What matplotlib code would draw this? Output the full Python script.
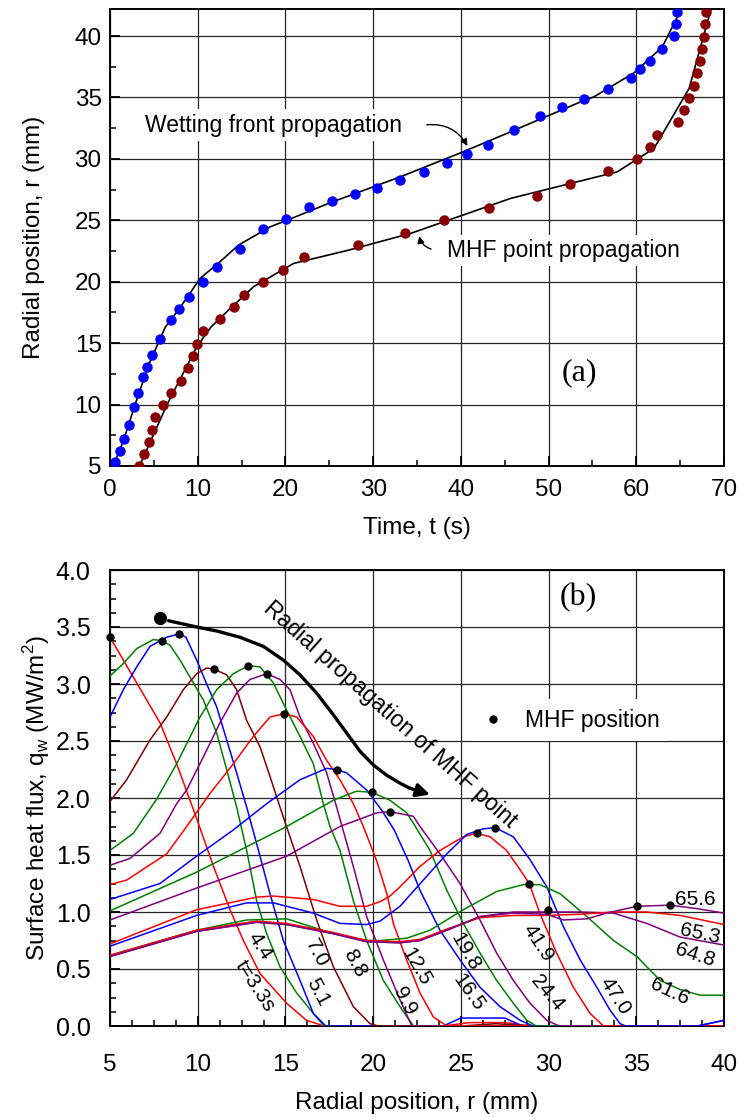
import numpy as np
import matplotlib.pyplot as plt
from matplotlib.ticker import MultipleLocator

plt.rcParams['font.family'] = ['Liberation Sans', 'DejaVu Sans']

# ---------- panel (a) data ----------
wet_t = [0.57, 1.14, 1.64, 2.2, 2.7, 3.16, 3.73, 4.26, 4.79, 5.75, 6.93, 7.91, 9.02, 10.6,
         12.18, 14.84, 17.39, 20.05, 22.64, 25.34, 27.97, 30.4, 33.1, 35.77, 38.47, 40.75,
         43.07, 46.04, 49.0, 51.48, 53.99, 56.74, 59.44, 60.46, 61.53, 62.97, 64.3, 64.5, 64.69]
wet_r = [5.3, 6.24, 7.22, 8.36, 9.77, 10.97, 12.27, 13.03, 14.0, 15.33, 16.88, 17.75, 18.78, 19.95,
         21.17, 22.66, 24.3, 25.07, 26.05, 26.54, 27.13, 27.67, 28.27, 28.92, 29.63, 30.39,
         31.15, 32.31, 33.48, 34.19, 34.86, 35.7, 36.57, 37.28, 37.95, 38.93, 40.01, 40.94, 41.97]
mhf_t = [3.35, 3.92, 4.45, 4.83, 5.14, 6.01, 7.0, 8.1, 8.87, 9.51, 9.93, 10.58, 12.56, 14.08,
         15.22, 17.39, 19.75, 22.15, 28.23, 33.68, 38.13, 43.23, 48.71, 52.4, 56.77, 60.12,
         61.6, 62.33, 64.8, 65.49, 66.06, 66.55, 66.89, 67.31, 67.5, 67.77, 67.84, 67.96]
mhf_r = [5.0, 5.98, 6.95, 7.93, 8.96, 9.94, 10.97, 11.94, 12.97, 13.93, 14.93, 15.96, 16.96, 17.94,
         18.94, 19.95, 20.92, 21.98, 22.98, 23.96, 24.99, 25.97, 26.95, 27.97, 28.98, 29.96,
         30.98, 31.96, 32.97, 33.97, 34.94, 35.94, 36.95, 37.95, 38.93, 39.96, 40.96, 41.94]
wet_fit_t = [0.38, 1.5, 3.0, 4.5, 6.3, 8.0, 10.27, 12.5, 14.65, 18.26, 20.17, 25.0, 33.1, 40.0,
             45.0, 53.65, 55.17, 59.74, 62.5, 63.17, 65.07]
wet_fit_r = [5.0, 7.0, 10.3, 13.4, 16.3, 17.9, 20.27, 21.6, 22.98, 24.47, 25.0, 26.4, 28.54, 30.5,
             32.0, 34.64, 35.05, 37.0, 38.8, 39.4, 42.1]
mhf_fit_t = [3.23, 6.5, 9.9, 11.5, 13.32, 16.36, 20.93, 27.2, 34.25, 45.66, 57.84, 62.02, 66.02, 68.49]
mhf_fit_r = [4.8, 10.0, 14.7, 16.3, 17.56, 19.59, 21.49, 22.57, 23.93, 26.78, 28.95, 30.85, 35.73, 42.1]

# ---------- panel (b) data: radial heat flux profiles ----------
r_33 = [5, 6.33, 7.85, 8.8, 9.94, 10.9, 11.84, 12.6, 13.55, 15.07, 16.2, 17.2, 24, 25.5, 27.5, 29, 40]
q_33 = [3.41, 3.06, 2.66, 2.30, 1.82, 1.40, 1.02, 0.75, 0.46, 0.20, 0.05, 0.0, 0.0, 0.03, 0.03, 0.0, 0.0]
r_44 = [5, 5.76, 6.52, 7.47, 7.94, 8.42, 8.99, 9.56, 10.32, 11.08, 11.65, 12.22, 12.79, 13.36,
        13.93, 14.69, 15.64, 16.59, 17.2, 40]
q_44 = [3.07, 3.18, 3.31, 3.39, 3.38, 3.34, 3.21, 3.06, 2.86, 2.57, 2.25, 1.92, 1.54, 1.10,
        0.81, 0.52, 0.29, 0.11, 0.0, 0.0]
r_51 = [5, 5.76, 6.52, 7.28, 8.23, 8.95, 9.33, 9.94, 10.51, 11.08, 11.65, 12.22, 12.79, 13.36,
        14.12, 14.88, 15.83, 16.59, 17.3, 24, 25, 27.5, 28.5, 38.5, 40]
q_51 = [2.71, 2.95, 3.15, 3.33, 3.41, 3.44, 3.41, 3.21, 3.0, 2.80, 2.51, 2.22, 1.92, 1.60,
        1.16, 0.75, 0.40, 0.11, 0.0, 0.0, 0.07, 0.07, 0.0, 0.0, 0.05]
r_70 = [5, 5.95, 7.28, 8.23, 9.18, 9.94, 10.51, 10.93, 11.65, 12.22, 12.79, 13.55, 14.12, 14.69,
        15.83, 16.78, 17.73, 18.87, 19.82, 20.3, 25, 27, 29, 40]
q_70 = [1.97, 2.16, 2.51, 2.71, 2.95, 3.09, 3.14, 3.13, 3.08, 2.95, 2.68, 2.45, 2.19, 1.92,
        1.40, 0.93, 0.52, 0.17, 0.02, 0.0, 0.0, 0.02, 0.0, 0.0]
r_88 = [5, 6.33, 7.66, 8.8, 10.13, 11.08, 12.03, 12.88, 13.55, 14.31, 15.07, 15.83, 16.59, 17.16,
        17.54, 18.11, 18.87, 19.63, 20.58, 21.53, 22.3, 40]
q_88 = [1.54, 1.69, 1.99, 2.30, 2.71, 2.95, 3.09, 3.16, 3.15, 3.01, 2.77, 2.54, 2.30, 1.95,
        1.75, 1.54, 1.10, 0.75, 0.40, 0.17, 0.0, 0.0]
r_99 = [5, 6.14, 7.85, 8.8, 9.37, 10.32, 11.27, 12.22, 12.98, 13.93, 14.69, 15.26, 15.83, 16.59,
        17.35, 17.92, 18.87, 19.63, 20.58, 21.53, 22.2, 40]
q_99 = [1.41, 1.47, 1.69, 1.95, 2.07, 2.36, 2.66, 2.92, 3.04, 3.09, 3.04, 2.95, 2.71, 2.48,
        2.22, 1.92, 1.40, 0.96, 0.58, 0.23, 0.0, 0.0]
r_125 = [5, 5.95, 8.23, 9.37, 10.7, 12.03, 13.17, 14.12, 14.94, 15.64, 16.59, 17.35, 18.11, 18.87,
         19.44, 20.2, 20.8, 21.15, 21.91, 22.67, 23.43, 24.2, 40]
q_125 = [1.24, 1.28, 1.51, 1.75, 2.04, 2.30, 2.54, 2.71, 2.74, 2.71, 2.54, 2.33, 2.16, 1.95,
         1.75, 1.45, 1.15, 0.90, 0.58, 0.29, 0.08, 0.0, 0.0]
r_165 = [5, 7.85, 9.94, 12.03, 13.93, 15.83, 17.35, 17.92, 18.49, 19.63, 20.5, 21.2, 22.0, 22.67,
         23.81, 24.95, 26.09, 27.23, 28.38, 29.1, 40]
q_165 = [1.11, 1.25, 1.49, 1.72, 1.95, 2.16, 2.26, 2.25, 2.22, 2.07, 1.89, 1.72, 1.45, 1.19,
         0.84, 0.58, 0.34, 0.17, 0.05, 0.0, 0.0]
r_198 = [5, 9.94, 15.07, 17.73, 19.06, 19.92, 20.96, 21.91, 22.29, 23.24, 24.2, 25.14, 26.09,
         27.04, 27.99, 28.76, 29.3, 40]
q_198 = [1.01, 1.35, 1.75, 1.98, 2.06, 2.05, 1.98, 1.87, 1.78, 1.54, 1.19, 0.90, 0.64,
         0.40, 0.20, 0.05, 0.0, 0.0]
r_244 = [5, 9.94, 15.07, 18.11, 20.2, 20.96, 22.29, 22.67, 23.81, 24.95, 26.09, 27.04, 27.99,
         28.94, 29.9, 30.6, 40]
q_244 = [0.93, 1.21, 1.49, 1.75, 1.87, 1.88, 1.84, 1.75, 1.51, 1.25, 0.93, 0.64, 0.40,
         0.20, 0.05, 0.0, 0.0]
r_419 = [5, 9.94, 13.36, 14.31, 16.59, 18.11, 19.63, 20.39, 20.96, 21.53, 22.67, 23.81, 25.14,
         25.9, 26.66, 27.61, 28.38, 28.9, 29.5, 30.46, 31.41, 32.37, 33.13, 40]
q_419 = [0.72, 1.02, 1.13, 1.14, 1.11, 1.05, 1.05, 1.09, 1.14, 1.22, 1.40, 1.54, 1.66,
         1.69, 1.66, 1.54, 1.37, 1.25, 0.99, 0.64, 0.34, 0.11, 0.0, 0.0]
r_470 = [5, 9.94, 12.79, 14.31, 16.59, 18.11, 19.63, 20.39, 21.53, 22.86, 24.2, 25.33, 26.28,
         26.95, 27.99, 28.94, 29.9, 30.85, 31.8, 32.75, 33.5, 34.08, 34.4, 38.5, 40]
q_470 = [0.70, 0.97, 1.08, 1.08, 0.99, 0.90, 0.89, 0.92, 1.05, 1.28, 1.51, 1.68, 1.73,
         1.74, 1.66, 1.46, 1.22, 0.87, 0.58, 0.34, 0.14, 0.02, 0.0, 0.0, 0.05]
r_616 = [5, 9.94, 12.79, 15.07, 17.73, 19.63, 20.39, 21.91, 23.24, 25.14, 27.04, 28.57, 29.5,
         30.66, 32.18, 33.7, 35.03, 36.36, 37.5, 38.64, 40]
q_616 = [0.62, 0.84, 0.93, 0.94, 0.81, 0.75, 0.75, 0.77, 0.84, 1.02, 1.18, 1.24, 1.24,
         1.16, 0.96, 0.75, 0.61, 0.40, 0.32, 0.27, 0.27]
r_648 = [5, 9.94, 13.36, 15.07, 17.73, 19.63, 21.53, 22.67, 24.2, 26.09, 27.99, 29.9, 31.8,
         33.7, 35.6, 37.5, 40]
q_648 = [0.61, 0.83, 0.91, 0.89, 0.81, 0.74, 0.73, 0.75, 0.84, 0.96, 1.0, 1.0, 1.0,
         0.99, 0.90, 0.78, 0.71]
r_653 = [5, 9.94, 13.36, 15.07, 17.73, 19.63, 21.53, 22.67, 24.2, 26.09, 27.99, 29.9, 31.8,
         33.7, 35.6, 37.5, 40]
q_653 = [0.62, 0.84, 0.92, 0.90, 0.82, 0.75, 0.74, 0.76, 0.85, 0.95, 0.97, 0.97, 0.98,
         1.0, 1.0, 0.97, 0.89]
r_656 = [5, 9.94, 13.36, 15.07, 17.73, 19.63, 21.53, 22.67, 24.2, 26.09, 27.99, 29.9, 30.85,
         32.18, 33.3, 35.03, 36.93, 38.45, 40]
q_656 = [0.61, 0.83, 0.91, 0.89, 0.81, 0.74, 0.73, 0.75, 0.84, 0.96, 0.99, 0.98, 0.93,
         0.94, 0.99, 1.05, 1.06, 1.03, 0.99]

dot_r = [5.0, 7.94, 8.95, 10.93, 12.88, 13.93, 14.94, 17.92, 19.92, 20.96, 25.9, 26.95, 28.9,
         29.95, 35.03, 36.93]
dot_q = [3.41, 3.38, 3.44, 3.13, 3.16, 3.09, 2.74, 2.25, 2.05, 1.88, 1.69, 1.74, 1.25,
         1.02, 1.05, 1.06]
path_r = [8.33, 9.94, 11.08, 12.41, 13.74, 14.88, 15.83, 16.78, 17.73, 18.49, 19.25, 20.01,
          20.77, 21.53, 22.1]
path_q = [3.555, 3.50, 3.465, 3.41, 3.33, 3.21, 3.08, 2.92, 2.73, 2.57, 2.41, 2.29,
          2.20, 2.13, 2.085]

curves = [
    (r_33, q_33, 'red', 't=3.3s', 13.27, 0.35, -57),
    (r_44, q_44, 'green', '4.4', 13.55, 0.70, -57),
    (r_51, q_51, 'blue', '5.1', 16.87, 0.30, -62),
    (r_70, q_70, '#800000', '7.0', 16.78, 0.64, -62),
    (r_88, q_88, 'green', '8.8', 18.97, 0.55, -62),
    (r_99, q_99, '#800080', '9.9', 21.8, 0.22, -62),
    (r_125, q_125, 'red', '12.5', 22.48, 0.52, -60),
    (r_165, q_165, 'blue', '16.5', 25.43, 0.29, -55),
    (r_198, q_198, 'green', '19.8', 25.24, 0.65, -60),
    (r_244, q_244, '#800080', '24.4', 29.9, 0.29, -50),
    (r_419, q_419, 'red', '41.9', 29.41, 0.73, -57),
    (r_470, q_470, 'blue', '47.0', 33.79, 0.26, -57),
    (r_616, q_616, 'green', '61.6', 36.93, 0.30, -25),
    (r_648, q_648, '#800080', '64.8', 38.35, 0.62, -18),
    (r_653, q_653, 'red', '65.3', 38.64, 0.81, -12),
    (r_656, q_656, '#800080', '65.6', 38.35, 1.11, 0),
]

W, H = 739, 1117
fig = plt.figure(figsize=(W / 100, H / 100), dpi=100)
axa = fig.add_axes([110 / W, 1 - 466 / H, 614 / W, 457 / H])
axb = fig.add_axes([110 / W, 1 - 1026 / H, 614 / W, 456 / H])

def style(ax):
    ax.grid(True, which='major', color='0.15', lw=0.9)
    ax.set_axisbelow(True)
    ax.tick_params(which='both', direction='in', labelsize=17.5, top=False, right=False)
    ax.tick_params(which='major', length=7, width=1.3)
    ax.tick_params(which='minor', length=4, width=1.1)
    for s in ax.spines.values():
        s.set_linewidth(1.4)

# ---------- (a) ----------
axa.plot(wet_fit_t, wet_fit_r, color='k', lw=1.2, zorder=3)
axa.plot(mhf_fit_t, mhf_fit_r, color='k', lw=1.2, zorder=3)
axa.plot(wet_t, wet_r, 'o', color='#0000ff', ms=6.5, zorder=4)
axa.plot(mhf_t, mhf_r, 'o', color='#880000', ms=6.5, zorder=4)
axa.set_xlim(0, 70)
axa.set_ylim(5, 42.2)
axa.xaxis.set_major_locator(MultipleLocator(10))
axa.xaxis.set_minor_locator(MultipleLocator(5))
axa.yaxis.set_major_locator(MultipleLocator(5))
axa.yaxis.set_minor_locator(MultipleLocator(2.5))
style(axa)
axa.tick_params(axis='x', pad=9)
axa.tick_params(axis='y', pad=6)
axa.set_xlabel('Time, t (s)', fontsize=17.5, labelpad=12)
axa.set_ylabel('Radial position, r (mm)', fontsize=17.5, labelpad=21)
axa.text(18.6, 32.75, 'Wetting front propagation', fontsize=16.5, ha='center', va='center',
         bbox=dict(fc='white', ec='none', pad=3), zorder=5)
axa.text(51.75, 22.57, 'MHF point propagation', fontsize=16.5, ha='center', va='center',
         bbox=dict(fc='white', ec='none', pad=3), zorder=5)
axa.annotate('', xy=(40.9, 30.85), xytext=(35.8, 32.75),
             arrowprops=dict(arrowstyle='-|>', connectionstyle='arc3,rad=-0.35', color='k',
                             lw=1, mutation_scale=10), zorder=6)
axa.annotate('', xy=(35.2, 23.93), xytext=(36.9, 22.6),
             arrowprops=dict(arrowstyle='-|>', connectionstyle='arc3,rad=-0.35', color='k',
                             lw=1, mutation_scale=10), zorder=6)
axa.text(53.5, 12.6, '(a)', fontsize=23, family='Liberation Serif', ha='center', va='center')

# ---------- (b) ----------
for r, q, c, lab, lx, ly, rot in curves:
    axb.plot(r, q, color=c, lw=1.1, zorder=3)
    axb.text(lx, ly, lab, fontsize=15, rotation=rot, ha='center', va='center', zorder=5)
axb.plot(dot_r, dot_q, 'o', color='k', ms=5, zorder=6, clip_on=False, label='MHF position')
axb.plot([7.85], [3.58], 'o', color='k', ms=8.5, zorder=6)
axb.plot(path_r, path_q, color='k', lw=2.4, zorder=6, solid_capstyle='round')
axb.annotate('', xy=(23.24, 2.03), xytext=(22.1, 2.085),
             arrowprops=dict(arrowstyle='-|>', color='k', lw=2.4, mutation_scale=20,
                             shrinkA=0, shrinkB=0), zorder=6)
axb.text(20.96, 2.73, 'Radial propagation of MHF point', fontsize=16.5, rotation=-41.5,
         ha='center', va='center', zorder=5)
axb.set_xlim(5, 40)
axb.set_ylim(0, 4.0)
axb.xaxis.set_major_locator(MultipleLocator(5))
axb.xaxis.set_minor_locator(MultipleLocator(1.25))
axb.yaxis.set_major_locator(MultipleLocator(0.5))
axb.yaxis.set_minor_locator(MultipleLocator(0.125))
axb.yaxis.set_major_formatter(plt.FormatStrFormatter('%.1f'))
style(axb)
axb.tick_params(axis='x', pad=20)
axb.tick_params(axis='y', pad=14, labelsize=18)
axb.set_xlabel('Radial position, r (mm)', fontsize=17.5, labelpad=12)
axb.set_ylabel('Surface heat flux, q$_\\mathregular{w}$ (MW/m$^\\mathregular{2}$)', fontsize=17.5,
               labelpad=3)
leg = axb.legend(loc='center left', bbox_to_anchor=(0.567, 0.671), fontsize=16.5, frameon=True,
                 handlelength=1.2, handletextpad=0.8, borderpad=0.4)
leg.get_frame().set_edgecolor('none')
leg.get_frame().set_alpha(1)
axb.text(31.7, 3.76, '(b)', fontsize=23, family='Liberation Serif', ha='center', va='center')

fig.savefig('out.png', dpi=100)
